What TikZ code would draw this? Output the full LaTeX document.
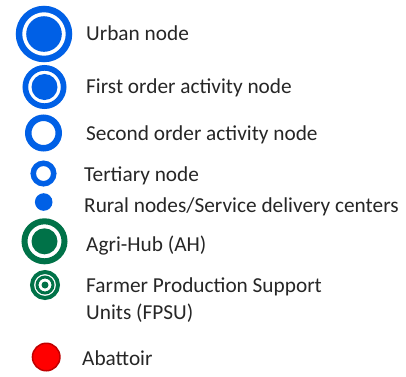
\documentclass[tikz,border=0pt]{standalone}
\usepackage{fontspec}
\setmainfont{Carlito}
\usepackage{tikz}
\usetikzlibrary{positioning}

\definecolor{nodeblue}{RGB}{0,96,230}
\definecolor{hubgreen}{RGB}{0,114,72}
\definecolor{abred}{RGB}{255,0,0}
\definecolor{abborder}{RGB}{192,0,0}

\begin{document}
\begin{tikzpicture}[x=1pt,y=-1pt,font=\fontsize{21.3}{26.5}\selectfont,
  ring/.style={draw=#1,circle,inner sep=0pt},
  dot/.style={fill=#1,circle,inner sep=0pt},
  lbl/.style={anchor=west,align=left,inner sep=0pt,text=black!85}]
  \useasboundingbox (0,0) rectangle (406,376);
  % urbane und aktivitaetsknoten
  \node[ring=nodeblue,line width=6.5pt,minimum size=50pt] (urb) at (44,34) {};
  \node[dot=nodeblue,minimum size=35.6pt] (urbc) at (urb.center) {};
  \node[ring=nodeblue,line width=5.7pt,minimum size=38.3pt] (fst) at (44.5,87) {};
  \node[dot=nodeblue,minimum size=26pt] (fstc) at (fst.center) {};
  \node[ring=nodeblue,line width=6.5pt,minimum size=30.5pt] (snd) at (43.5,133) {};
  \node[ring=nodeblue,line width=5.5pt,minimum size=20.5pt] (ter) at (43.5,173.5) {};
  \node[dot=nodeblue,minimum size=17.6pt] (rur) at (43.7,202) {};
  % agri
  \node[ring=hubgreen,line width=6pt,minimum size=40pt] (ah) at (44.5,241.3) {};
  \node[dot=hubgreen,minimum size=26pt] (ahc) at (ah.center) {};
  \node[ring=hubgreen,line width=4pt,minimum size=26pt] (fp) at (45,285) {};
  \node[ring=hubgreen,line width=3pt,minimum size=16pt] (fpm) at (fp.center) {};
  \node[dot=hubgreen,minimum size=7pt] (fpc) at (fp.center) {};
  \node[draw=abborder,fill=abred,circle,line width=1.5pt,minimum size=27.5pt,inner sep=0pt] (ab) at (46.2,357) {};
  % texte
  \node[lbl] (turb) at (86,33.5) {Urban node};
  \node[lbl] (tfst) at (86,88) {First order activity node};
  \node[lbl] (tsnd) at (86,134.5) {Second order activity node};
  \node[lbl] (tter) at (84,175.5) {Tertiary node};
  \node[lbl] (trur) at (84,206.5) {Rural nodes/Service delivery centers};
  \node[lbl] (tah) at (86,245.5) {Agri-Hub (AH)};
  \node[lbl] (tfp) at (86,300) {Farmer Production Support\\Units (FPSU)};
  \node[lbl] (tab) at (82,358.5) {Abattoir};
\end{tikzpicture}
\end{document}
